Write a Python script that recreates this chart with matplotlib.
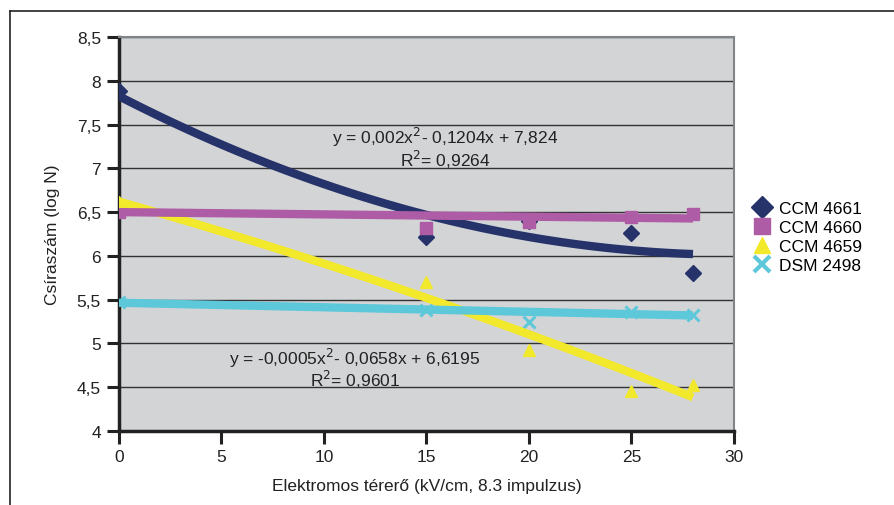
import numpy as np
import matplotlib.pyplot as plt
from matplotlib.lines import Line2D

plt.rcParams['font.family'] = ['Liberation Sans', 'DejaVu Sans']

x_kv = [0, 15, 20, 25, 28]
ccm4661 = [7.88, 6.22, 6.40, 6.26, 5.80]
ccm4660 = [6.50, 6.32, 6.39, 6.44, 6.48]
ccm4659 = [6.62, 5.70, 4.92, 4.46, 4.52]
dsm2498 = [5.47, 5.38, 5.24, 5.36, 5.33]

# trendline coefficients (a x^2 + b x + c); first and third are printed on the chart
coef_4661 = [0.002, -0.1204, 7.824]
coef_4660 = [0.0, -0.0026, 6.50]
coef_4659 = [-0.0005, -0.0658, 6.6195]
coef_2498 = [0.0, -0.0052, 5.465]

labels = ['CCM 4661', 'CCM 4660', 'CCM 4659', 'DSM 2498']
colors = ['#25336a', '#ae5ca6', '#f2e82c', '#5cc8da']
markers = ['D', 's', '^', 'x']

fig = plt.figure(figsize=(8.95, 5.06), dpi=100)
ax = fig.add_axes([119 / 895, 1 - 432 / 506, 615 / 895, 394 / 506])
ax.set_facecolor('#d3d4d6')

xs = np.linspace(0, 28, 100)
series = [ccm4661, ccm4660, ccm4659, dsm2498]
coefs = [coef_4661, coef_4660, coef_4659, coef_2498]

for ys, c, m in zip(series, colors, markers):
    if m == 'x':
        ax.plot(x_kv, ys, ls='none', marker=m, ms=9, mew=2.2, color=c, zorder=3)
    else:
        ax.plot(x_kv, ys, ls='none', marker=m, ms=8 if m == 'D' else 9, color=c, zorder=3)
# trend lines; magenta sits over navy at the crossing
for i in [0, 2, 3, 1]:
    ax.plot(xs, np.polyval(coefs[i], xs), color=colors[i], lw=6, solid_capstyle='butt', zorder=4)

ax.set_xlim(0, 30)
ax.set_ylim(4, 8.5)
ax.set_xticks(range(0, 31, 5))
yt = np.arange(4, 8.51, 0.5)
ax.set_yticks(yt)
ax.set_yticklabels([('%g' % v).replace('.', ',') for v in yt])
ax.grid(axis='y', color='#333333', lw=1)
ax.set_axisbelow(True)
ax.tick_params(axis='both', direction='out', length=9, width=2.2, labelsize=12.5,
               colors='#222222', pad=4)

for s in ['top', 'right']:
    ax.spines[s].set_color('#7f8588')
    ax.spines[s].set_linewidth(1.5)
for s in ['left', 'bottom']:
    ax.spines[s].set_color('#222222')
    ax.spines[s].set_linewidth(2.5)

ax.set_xlabel('Elektromos térerő (kV/cm, 8.3 impulzus)', fontsize=12.5, color='#222222', labelpad=10)
ax.set_ylabel('Csíraszám (log N)', fontsize=12.5, color='#222222', labelpad=12)

ax.text(15.9, 7.36, 'y = 0,002x$^2$- 0,1204x + 7,824', fontsize=12.5, color='#222222', ha='center', va='center')
ax.text(15.9, 7.11, 'R$^2$= 0,9264', fontsize=12.5, color='#222222', ha='center', va='center')
ax.text(11.5, 4.84, 'y = -0,0005x$^2$- 0,0658x + 6,6195', fontsize=12.5, color='#222222', ha='center', va='center')
ax.text(11.5, 4.59, 'R$^2$= 0,9601', fontsize=12.5, color='#222222', ha='center', va='center')

handles = []
for lab, c, m in zip(labels, colors, markers):
    if m == 'x':
        handles.append(Line2D([], [], ls='none', marker=m, ms=11, mew=3, color=c, label=lab))
    else:
        handles.append(Line2D([], [], ls='none', marker=m, ms=11, color=c, label=lab))
fig.legend(handles=handles, loc='upper left', bbox_to_anchor=(745 / 895, 1 - 195 / 506),
           frameon=False, fontsize=12.5, handletextpad=0.35, labelspacing=0.22,
           handlelength=1.2, borderaxespad=0)

# outer frame lines
fig.add_artist(Line2D([10 / 895, 10 / 895], [0, 1 - 12 / 506], color='#222222', lw=1.2,
                      transform=fig.transFigure))
fig.add_artist(Line2D([10 / 895, 1], [1 - 12 / 506, 1 - 12 / 506], color='#222222', lw=1.2,
                      transform=fig.transFigure))

fig.savefig('out.png', dpi=100)
